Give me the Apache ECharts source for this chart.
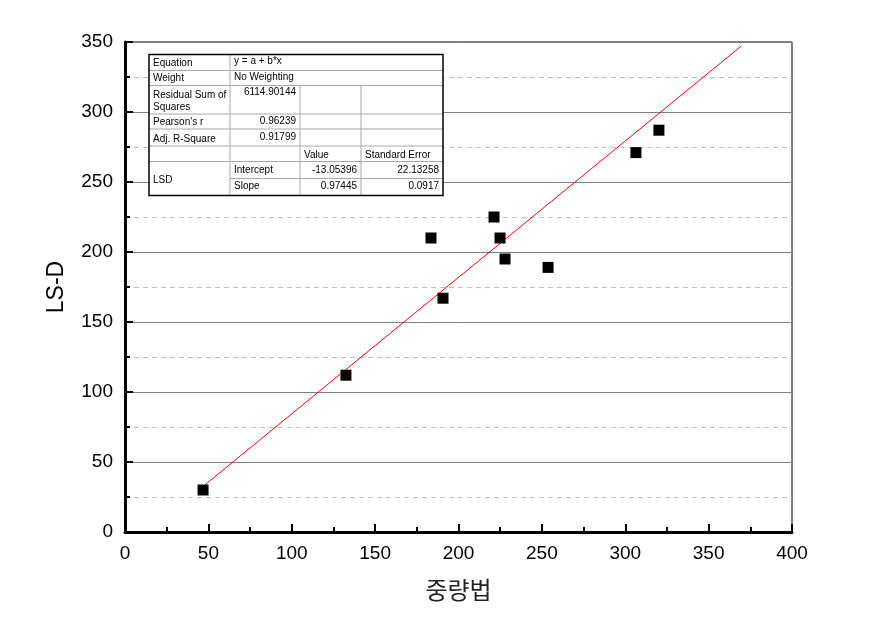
<!DOCTYPE html>
<html>
<head>
<meta charset="utf-8">
<script src="https://cdn.jsdelivr.net/npm/echarts@6/dist/echarts.min.js"></script>
<style>
html,body{margin:0;padding:0;background:#fff;}
#chart{width:870px;height:632px;}
</style>
</head>
<body>
<div id="chart"></div>
<script>
// ---- data ----
var xValues = [46.8, 132.5, 183.5, 190.7, 221.3, 224.9, 227.9, 253.7, 306.4, 320.2];
var yValues = [30, 112, 210, 167, 225, 210, 195, 189, 271, 287];
var fitIntercept = -13.05396;
var fitSlope = 0.97445;
var fitRange = [46.8, 369.7];
var xTicks = [0, 50, 100, 150, 200, 250, 300, 350, 400];
var yTicks = [0, 50, 100, 150, 200, 250, 300, 350];
var xName = '중량법';
var yName = 'LS-D';

// fit table contents
var tableLabels = ['Equation', 'Weight', 'Residual Sum of\nSquares', "Pearson's r", 'Adj. R-Square', '', 'LSD'];
var tableTop = ['y = a + b*x', 'No Weighting'];
var tableStats = ['6114.90144', '0.96239', '0.91799'];
var tableHeader = ['Value', 'Standard Error'];
var tableParams = ['Intercept', 'Slope'];
var tableValues = ['-13.05396', '0.97445'];
var tableErrors = ['22.13258', '0.0917'];

var scatterData = xValues.map(function (x, i) { return [x, yValues[i]]; });
var fitData = fitRange.map(function (x) { return [x, fitIntercept + fitSlope * x]; });

// ---- table graphic (annotation) ----
var TX = [149, 230, 300, 361, 443];
var TY = [54.5, 70.5, 85.5, 114, 129, 146, 161.5, 178.5, 195.5];
var gridCol = '#a8a8a8';
var fontT = '10px "Liberation Sans", Arial, sans-serif';
var g = [];
function hline(y, x1, x2) {
  g.push({type: 'line', shape: {x1: x1, y1: y, x2: x2, y2: y}, style: {stroke: gridCol, lineWidth: 1}, z: 101});
}
function vline(x, y1, y2) {
  g.push({type: 'line', shape: {x1: x, y1: y1, x2: x, y2: y2}, style: {stroke: gridCol, lineWidth: 1}, z: 101});
}
function txt(s, x, y, align) {
  g.push({type: 'text', x: x, y: y, style: {text: s, font: fontT, fill: '#000', align: align || 'left', verticalAlign: 'middle'}, z: 102});
}
g.push({type: 'rect', shape: {x: TX[0], y: TY[0], width: TX[4] - TX[0], height: TY[8] - TY[0]},
  style: {fill: '#fff', stroke: 'none'}, z: 100});
for (var i = 1; i <= 6; i++) hline(TY[i], TX[0], TX[4]);
hline(TY[7], TX[1], TX[4]);
vline(TX[1], TY[0], TY[8]);
vline(TX[2], TY[2], TY[8]);
vline(TX[3], TY[2], TY[8]);
g.push({type: 'rect', shape: {x: TX[0], y: TY[0], width: TX[4] - TX[0], height: TY[8] - TY[0]},
  style: {fill: 'none', stroke: '#000', lineWidth: 1.5}, z: 103});
// labels col1
txt(tableLabels[0], 153, 63);
txt(tableLabels[1], 153, 78.5);
txt('Residual Sum of', 153, 95.5);
txt('Squares', 153, 107);
txt(tableLabels[3], 153, 122.5);
txt(tableLabels[4], 153, 139);
txt(tableLabels[6], 153, 180.5);
// top rows
txt(tableTop[0], 234, 61.5);
txt(tableTop[1], 234, 77);
// stats
txt(tableStats[0], 296, 92.5, 'right');
txt(tableStats[1], 296, 121, 'right');
txt(tableStats[2], 296, 137, 'right');
// header
txt(tableHeader[0], 304, 155);
txt(tableHeader[1], 365, 155);
// params
txt(tableParams[0], 234, 170.5);
txt(tableParams[1], 234, 186.5);
txt(tableValues[0], 357, 170.5, 'right');
txt(tableValues[1], 357, 186.5, 'right');
txt(tableErrors[0], 439, 170.5, 'right');
txt(tableErrors[1], 439, 186.5, 'right');

var chart = echarts.init(document.getElementById('chart'), null, {renderer: 'canvas'});
var labelFont = {fontSize: 19, color: '#000', fontFamily: '"Liberation Sans", Arial, sans-serif'};
chart.setOption({
  animation: false,
  backgroundColor: '#fff',
  grid: {left: 125, right: 78, top: 42, bottom: 100, show: true, borderColor: '#000', borderWidth: 1, backgroundColor: 'transparent'},
  xAxis: {
    type: 'value', min: xTicks[0], max: xTicks[xTicks.length - 1], interval: 50,
    name: xName, nameLocation: 'middle', nameGap: 46,
    nameTextStyle: {fontSize: 24, color: '#222', fontFamily: '"Noto Sans CJK KR", sans-serif'},
    axisLine: {show: true, onZero: false, lineStyle: {color: '#000', width: 3}},
    axisTick: {show: true, inside: true, length: 8, lineStyle: {color: '#000', width: 2}},
    minorTick: {show: true, splitNumber: 2, length: 5, lineStyle: {color: '#000', width: 2}},
    axisLabel: Object.assign({margin: 12}, labelFont),
    splitLine: {show: false}
  },
  yAxis: {
    type: 'value', min: yTicks[0], max: yTicks[yTicks.length - 1], interval: 50,
    name: yName, nameLocation: 'middle', nameGap: 57,
    nameTextStyle: {fontSize: 23, color: '#000', fontFamily: '"Liberation Sans", Arial, sans-serif'},
    axisLine: {show: true, onZero: false, lineStyle: {color: '#000', width: 3}},
    axisTick: {show: true, inside: true, length: 8, lineStyle: {color: '#000', width: 2}},
    minorTick: {show: true, splitNumber: 2, length: 5, lineStyle: {color: '#000', width: 2}},
    axisLabel: Object.assign({margin: 12}, labelFont),
    splitLine: {show: true, lineStyle: {color: '#808080', width: 1}},
    minorSplitLine: {show: true, lineStyle: {color: '#c0c0c0', width: 1, type: [5, 4]}}
  },
  series: [
    {
      type: 'line', data: fitData, showSymbol: false, symbol: 'none',
      lineStyle: {color: '#ff0000', width: 1}, z: 3, silent: true
    },
    {
      type: 'scatter', data: scatterData, symbol: 'rect', symbolSize: 11,
      itemStyle: {color: '#000', opacity: 1}, z: 4
    }
  ],
  graphic: g
});
</script>
</body>
</html>
